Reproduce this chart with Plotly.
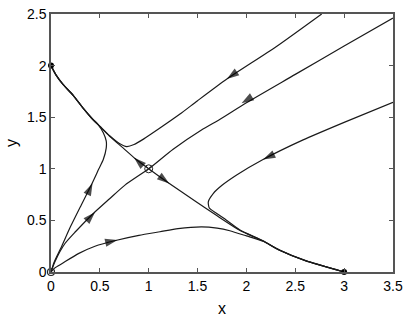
import plotly.graph_objects as go

# ---- data ----
# separatrix (stable manifold of saddle), origin -> saddle -> top right
sep_x = [0, 0.04, 0.143, 0.25, 0.433, 0.6, 0.757, 1.0, 1.25, 1.54, 1.73, 2.0, 2.5, 3.0, 3.5]
sep_y = [0, 0.10, 0.276, 0.39, 0.567, 0.71, 0.842, 1.0, 1.19, 1.376, 1.48, 1.64, 1.915, 2.19, 2.46]

# unstable manifold, (0,2) -> saddle -> (3,0)
uns_x = [0, 0.05, 0.12, 0.228, 0.33, 0.416, 0.5, 0.6, 0.74, 0.86, 1.0, 1.2, 1.47, 1.7, 1.93, 2.17, 2.34, 2.6, 3.0]
uns_y = [2, 1.91, 1.82, 1.71, 1.585, 1.49, 1.41, 1.315, 1.2, 1.10, 1.0, 0.865, 0.69, 0.545, 0.405, 0.30, 0.21, 0.11, 0.0]

# upper trajectory entering from top edge, hooking at (0.78,1.21)
up_x = [2.77, 2.3, 1.8, 1.5, 1.32, 1.1, 0.95, 0.85, 0.775, 0.7, 0.6, 0.5, 0.416, 0.33, 0.228, 0.12, 0.05, 0]
up_y = [2.5, 2.18, 1.87, 1.66, 1.53, 1.385, 1.29, 1.235, 1.215, 1.245, 1.32, 1.413, 1.492, 1.587, 1.712, 1.822, 1.912, 2]

# left trajectory from origin hooking up to (0,2)
lf_x = [0, 0.03, 0.1, 0.2, 0.31, 0.416, 0.49, 0.535, 0.565, 0.565, 0.535, 0.48, 0.416, 0.33, 0.228, 0.12, 0.05, 0]
lf_y = [0, 0.09, 0.23, 0.44, 0.65, 0.85, 1.0, 1.09, 1.2, 1.27, 1.35, 1.43, 1.49, 1.585, 1.71, 1.82, 1.91, 2]

# right trajectory from right edge hooking at (1.61,0.68) to (3,0)
rt_x = [3.5, 3.0, 2.58, 2.17, 1.9, 1.75, 1.66, 1.61, 1.62, 1.7, 1.8, 1.93, 2.17, 2.34, 2.6, 3.0]
rt_y = [1.645, 1.45, 1.28, 1.09, 0.94, 0.84, 0.76, 0.68, 0.62, 0.565, 0.5, 0.41, 0.302, 0.212, 0.112, 0.0]

# bottom trajectory from origin to (3,0)
bt_x = [0, 0.04, 0.11, 0.28, 0.45, 0.672, 0.9, 1.115, 1.3, 1.54, 1.7, 1.83, 2.0, 2.17, 2.34, 2.6, 3.0]
bt_y = [0, 0.04, 0.08, 0.178, 0.25, 0.308, 0.355, 0.39, 0.42, 0.437, 0.425, 0.40, 0.35, 0.298, 0.211, 0.111, 0.0]

# arrows: tail point and head point along the curves
arr_tail_x = [0.40, 0.40, 0.62, 0.90, 1.15, 1.86, 2.01, 2.23]
arr_tail_y = [0.53, 0.81, 0.297, 1.065, 0.9, 1.91, 1.67, 1.117]
arr_head_x = [0.45, 0.425, 0.68, 0.85, 1.21, 1.80, 1.95, 2.17]
arr_head_y = [0.58, 0.86, 0.31, 1.108, 0.858, 1.87, 1.635, 1.09]

# equilibria
stable_x = [0, 3]
stable_y = [2, 0]
unstable_x = [0]
unstable_y = [0]
saddle_x = [1]
saddle_y = [1]

x_ticks = [0, 0.5, 1, 1.5, 2, 2.5, 3, 3.5]
x_labels = ["0", "0.5", "1", "1.5", "2", "2.5", "3", "3.5"]
y_ticks = [0, 0.5, 1, 1.5, 2, 2.5]
y_labels = ["0", "0.5", "1", "1.5", "2", "2.5"]

LINE = dict(color="#1a1a1a", width=1.2, shape="spline", smoothing=0.6)
FONT = "Liberation Sans, Arial"

fig = go.Figure()
for xs, ys in [(sep_x, sep_y), (uns_x, uns_y), (up_x, up_y), (lf_x, lf_y), (rt_x, rt_y), (bt_x, bt_y)]:
    fig.add_trace(go.Scatter(x=xs, y=ys, mode="lines", line=LINE, hoverinfo="skip", cliponaxis=True))

for tx, ty, hx, hy in zip(arr_tail_x, arr_tail_y, arr_head_x, arr_head_y):
    fig.add_trace(go.Scatter(
        x=[tx, hx], y=[ty, hy], mode="markers",
        marker=dict(symbol="arrow", size=[0, 13], angleref="previous", color="#000000",
                    line=dict(width=0)),
        hoverinfo="skip", cliponaxis=False))

fig.add_trace(go.Scatter(x=stable_x, y=stable_y, mode="markers",
                         marker=dict(symbol="circle", size=6, color="#000"), cliponaxis=False))
fig.add_trace(go.Scatter(x=unstable_x, y=unstable_y, mode="markers",
                         marker=dict(symbol="circle-open", size=7, color="#222", line=dict(width=1.2)),
                         cliponaxis=False))
fig.add_trace(go.Scatter(x=saddle_x, y=saddle_y, mode="markers",
                         marker=dict(symbol="circle-x-open", size=8, color="#222", line=dict(width=1)),
                         cliponaxis=False))

axis_common = dict(showline=True, linecolor="#555555", linewidth=1.5, mirror="ticks",
                   ticks="inside", ticklen=4, tickcolor="#555555", tickwidth=1,
                   showgrid=False, zeroline=False, automargin=False,
                   tickfont=dict(family=FONT, size=14, color="#000"))

fig.update_layout(
    width=412, height=322,
    margin=dict(l=51, r=19, t=14, b=50),
    paper_bgcolor="white", plot_bgcolor="white",
    showlegend=False,
    xaxis=dict(range=[0, 3.5], tickvals=x_ticks, ticktext=x_labels,
               title=dict(text="x", font=dict(family=FONT, size=16, color="#000"), standoff=10),
               **axis_common),
    yaxis=dict(range=[0, 2.5], tickvals=y_ticks, ticktext=y_labels,
               title=dict(text="y", font=dict(family=FONT, size=16, color="#000"), standoff=5),
               **axis_common),
)

fig.write_html("out.html")
